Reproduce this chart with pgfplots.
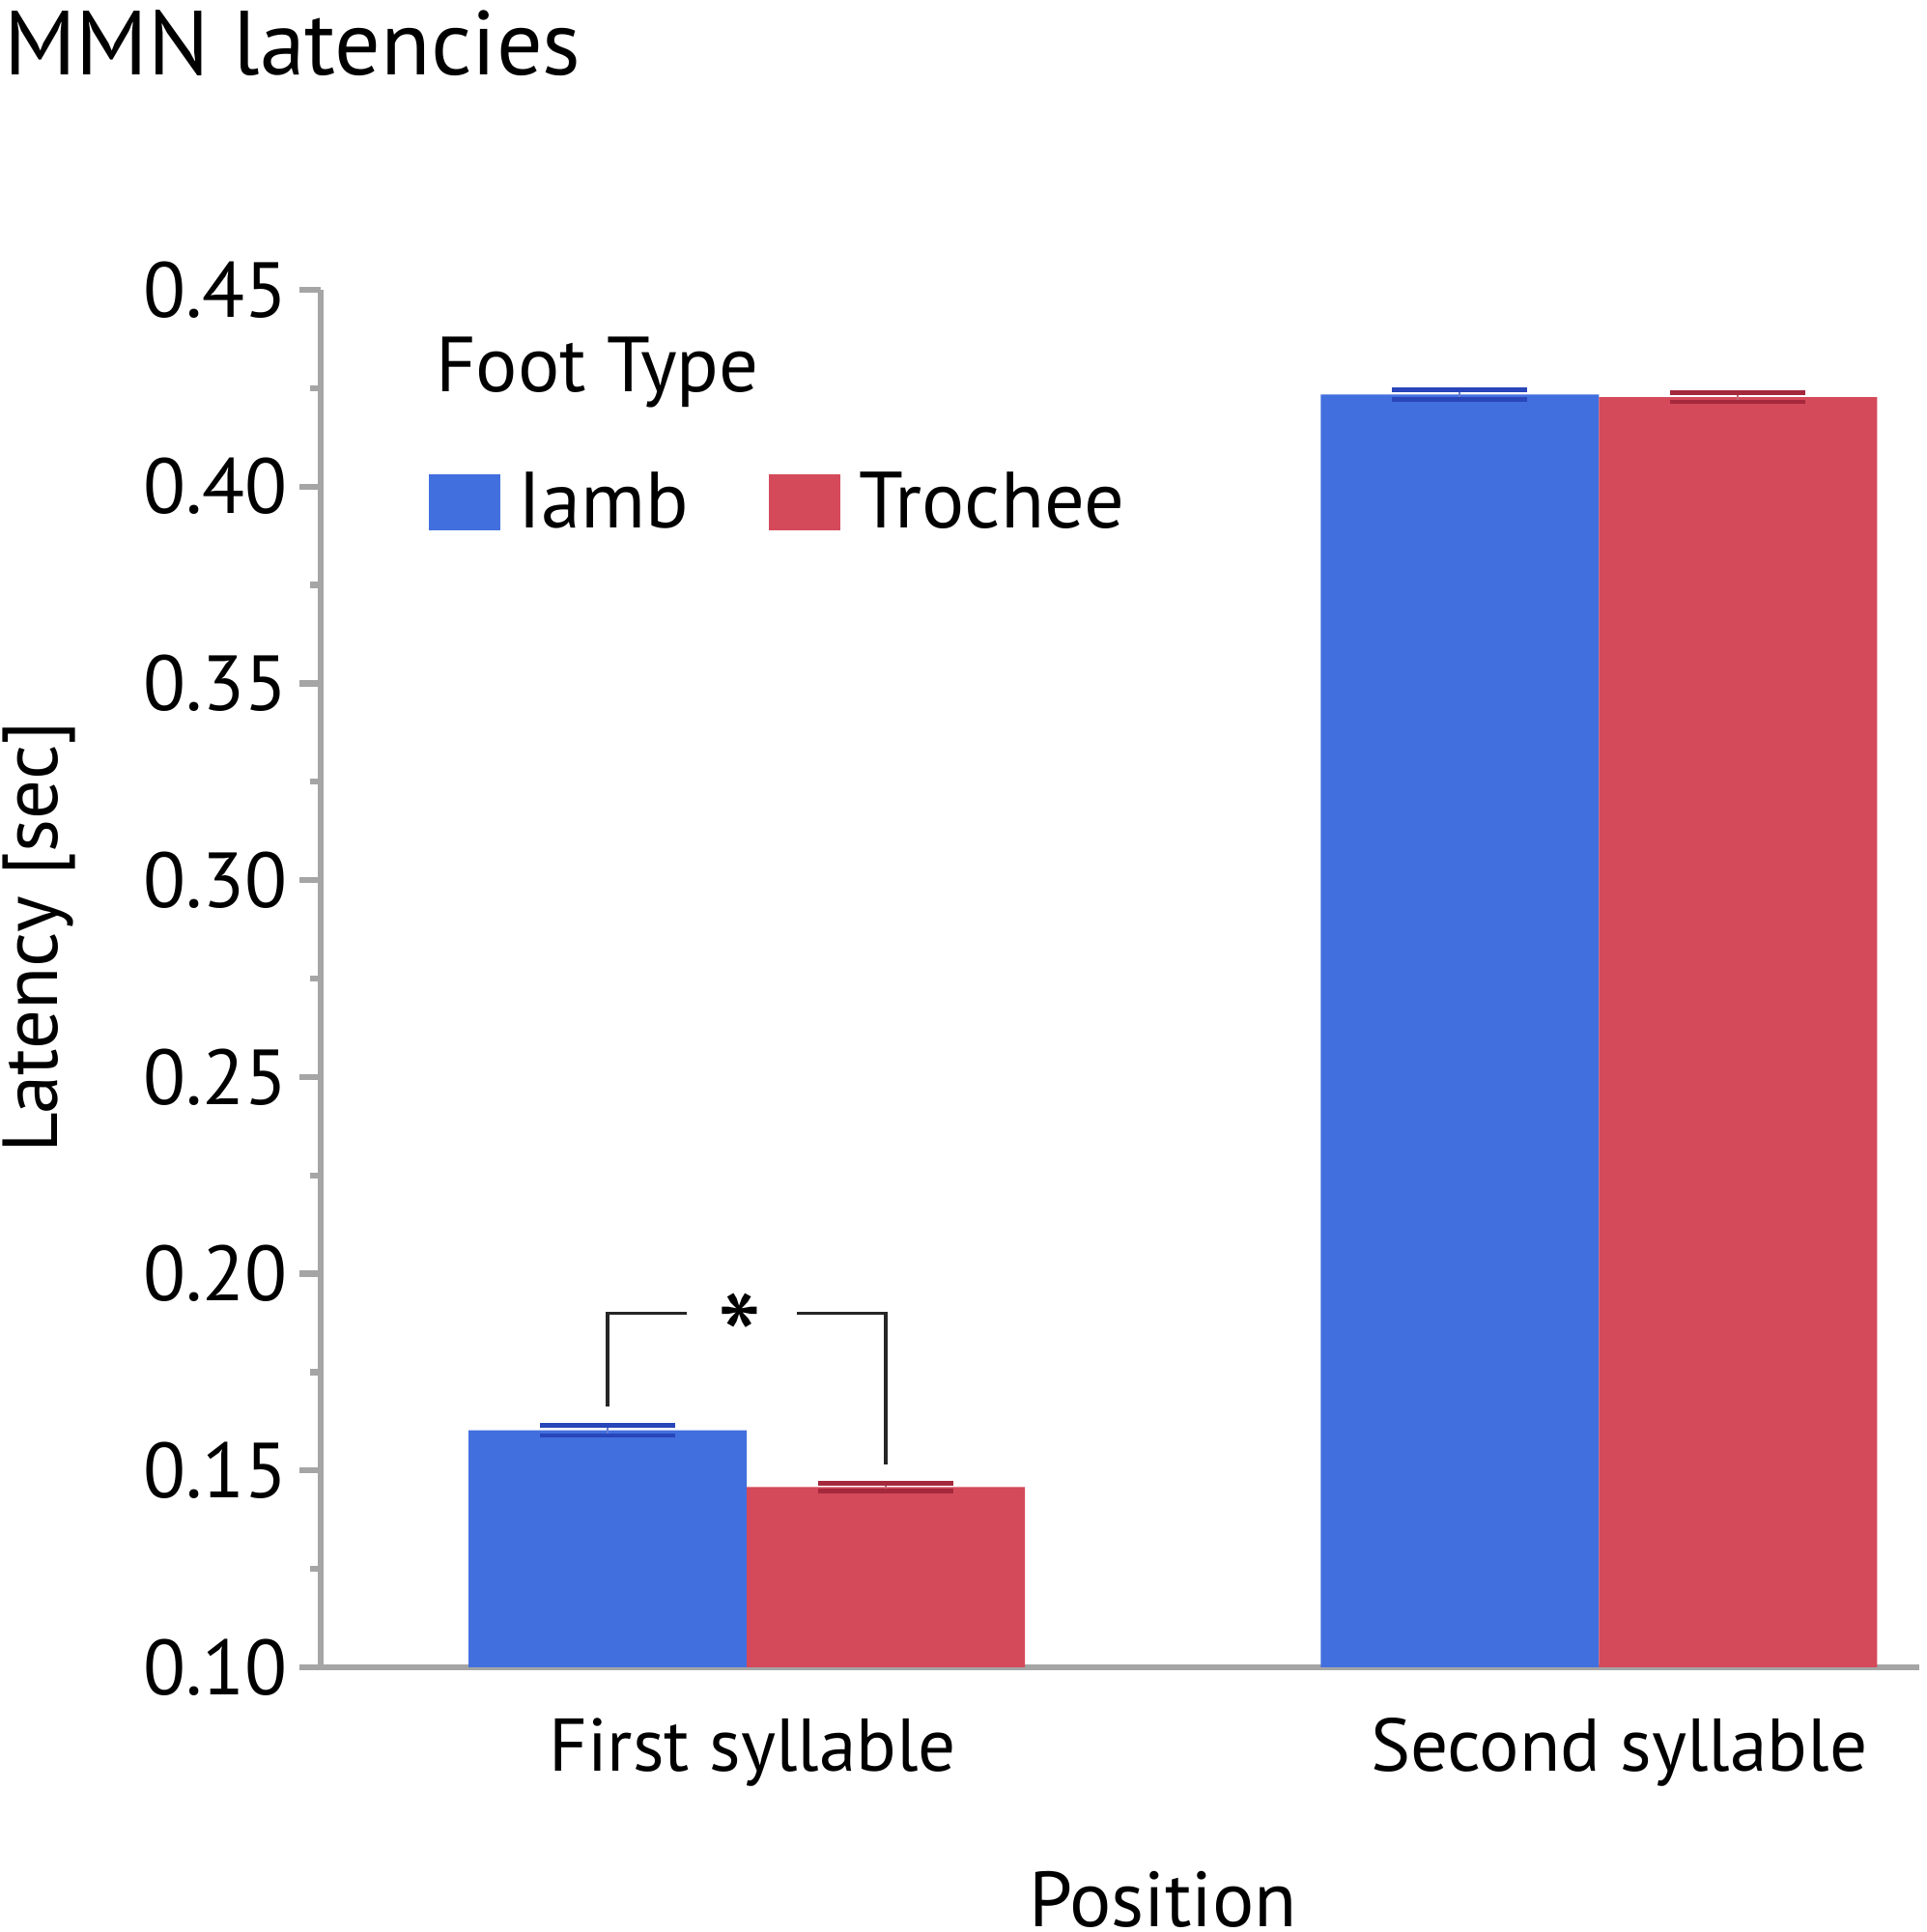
\documentclass[border=0pt]{standalone}
\usepackage{fontspec}
\setmainfont{PT Sans}
\usepackage{pgfplots}
\pgfplotsset{compat=1.18}
\definecolor{barblue}{RGB}{66,111,222}
\definecolor{barred}{RGB}{212,74,90}
\definecolor{errblue}{RGB}{40,70,185}
\definecolor{errred}{RGB}{165,40,60}
\definecolor{axgray}{RGB}{165,165,165}
\newcommand{\bigfont}{\fontsize{23}{27}\selectfont}
\begin{document}
\begin{tikzpicture}
\useasboundingbox (0,0) rectangle (19.95,20);
\begin{axis}[
  at={(3.32cm,2.74cm)}, anchor=south west,
  scale only axis, width=16.55cm, height=14.26cm,
  xmin=-0.5, xmax=1.376, ymin=0.10, ymax=0.45,
  axis x line=bottom, axis y line=left,
  axis line style={axgray, line width=1.8pt, -},
  xtick={0.007,1.024}, xticklabels={First syllable, Second syllable},
  x tick style={draw=none},
  ytick={0.10,0.15,0.20,0.25,0.30,0.35,0.40,0.45},
  minor ytick={0.125,0.175,0.225,0.275,0.325,0.375,0.425},
  yticklabel style={/pgf/number format/.cd, fixed, fixed zerofill, precision=2},
  /pgf/number format/assume math mode=true,
  tick align=outside, major tick length=0.22cm, minor tick length=0.11cm,
  y tick style={axgray, line width=1.8pt},
  tick label style={font=\bigfont},
  xticklabel style={anchor=base, yshift=-0.85cm, font=\fontsize{22}{26}\selectfont},
  title={MMN latencies},
  title style={at={(axis description cs:-0.2055,1.1415)}, anchor=base west, font=\fontsize{26.8}{31}\selectfont},
  ylabel={Latency [sec]},
  ylabel style={at={(axis description cs:-0.176,0.53)}, anchor=center, font=\bigfont},
  xlabel={Position},
  xlabel style={at={(axis description cs:0.527,-0.1886)}, anchor=base, font=\bigfont},
  legend columns=2,
  legend image code/.code={\fill[#1] (0cm,-0.29cm) rectangle (0.74cm,0.29cm);},
  legend style={at={(axis description cs:0.067,0.873)}, anchor=north west, draw=none, fill=none,
    inner sep=0pt, font=\fontsize{23.5}{27}\selectfont,
    /tikz/every odd column/.append style={column sep=0.12cm},
    /tikz/every even column/.append style={column sep=0.76cm}},
]
\addplot[ybar, bar width=0.3265, bar shift=0pt, fill=barblue, draw=none,
  error bars/.cd, y dir=both, y explicit,
  error bar style={line width=0.6pt, errblue!70},
  error mark options={errblue, line width=1.3pt, mark size=0.7cm, rotate=90}]
  coordinates {(-0.16325,0.1602) +- (0,0.0013) (0.83675,0.4234) +- (0,0.0012)};
\addplot[ybar, bar width=0.3265, bar shift=0pt, fill=barred, draw=none,
  error bars/.cd, y dir=both, y explicit,
  error bar style={line width=0.6pt, errred!70},
  error mark options={errred, line width=1.3pt, mark size=0.7cm, rotate=90}]
  coordinates {(0.16325,0.1458) +- (0,0.0010) (1.16325,0.4227) +- (0,0.0012)};
\legend{Iamb, Trochee}
\addplot[forget plot, black!85, line width=1pt] coordinates {(-0.16325,0.1663) (-0.16325,0.190) (-0.070,0.190)};
\addplot[forget plot, black!85, line width=1pt] coordinates {(0.059,0.190) (0.16325,0.190) (0.16325,0.1515)};
\node[anchor=base, font=\fontsize{38}{42}\selectfont] at (axis cs:-0.008,0.1715) {*};
\node[anchor=base west, font=\bigfont] at (axis description cs:0.0645,0.926) {Foot Type};
\end{axis}
\end{tikzpicture}
\end{document}
